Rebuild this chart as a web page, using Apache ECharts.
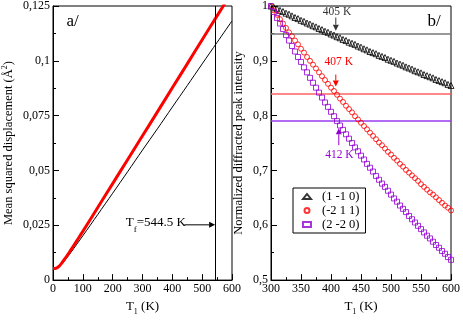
<!DOCTYPE html>
<html><head><meta charset="utf-8">
<script src="https://cdn.jsdelivr.net/npm/echarts@6/dist/echarts.min.js"></script>
<style>html,body{margin:0;padding:0;background:#fff}#c{width:463px;height:321px}</style>
</head><body><div id="c"></div>
<script>
// ---- panel a data ----
const msdT = [0,10,20,30,40,50,60,80,100,150,200,250,300,350,400,450,500,550,600];
const msdRed = [0.0053,0.0054,0.0063,0.0079,0.0098,0.0117,0.0138,0.0180,0.0222,0.0331,0.0440,0.0549,0.0658,0.0767,0.0877,0.0986,0.1096,0.1205,0.1315];
const msdBlack = [0.0053,0.0053,0.0061,0.0074,0.0090,0.0108,0.0126,0.0164,0.0202,0.0299,0.0396,0.0494,0.0593,0.0690,0.0789,0.0887,0.0986,0.1084,0.1182];
const meltT = 544.5;
// ---- panel b data ----
const tempB = [300,305,310,315,320,325,330,335,340,345,350,355,360,365,370,375,380,385,390,395,400,405,410,415,420,425,430,435,440,445,450,455,460,465,470,475,480,485,490,495,500,505,510,515,520,525,530,535,540,545,550,555,560,565,570,575,580,585,590,595,600];
const int110 = [1.000,0.997,0.995,0.992,0.990,0.987,0.985,0.982,0.979,0.977,0.974,0.972,0.969,0.967,0.964,0.962,0.959,0.957,0.954,0.952,0.949,0.947,0.944,0.942,0.939,0.937,0.934,0.932,0.930,0.927,0.925,0.922,0.920,0.917,0.915,0.913,0.910,0.908,0.906,0.903,0.901,0.899,0.896,0.894,0.892,0.889,0.887,0.885,0.882,0.880,0.878,0.875,0.873,0.871,0.869,0.866,0.864,0.862,0.860,0.857,0.855];
const int211 = [1.000,0.992,0.984,0.976,0.968,0.960,0.952,0.945,0.937,0.930,0.922,0.915,0.907,0.900,0.893,0.886,0.879,0.872,0.865,0.858,0.851,0.845,0.838,0.831,0.825,0.818,0.812,0.806,0.799,0.793,0.787,0.781,0.775,0.769,0.763,0.757,0.751,0.746,0.740,0.734,0.729,0.723,0.718,0.712,0.707,0.701,0.696,0.691,0.686,0.681,0.675,0.670,0.665,0.660,0.656,0.651,0.646,0.641,0.636,0.632,0.627];
const int220 = [1.000,0.989,0.978,0.968,0.958,0.947,0.937,0.927,0.917,0.907,0.898,0.888,0.879,0.869,0.860,0.851,0.842,0.833,0.824,0.816,0.807,0.799,0.790,0.782,0.774,0.766,0.758,0.750,0.742,0.735,0.727,0.720,0.712,0.705,0.698,0.690,0.683,0.676,0.670,0.663,0.656,0.649,0.643,0.636,0.630,0.624,0.617,0.611,0.605,0.599,0.593,0.587,0.581,0.576,0.570,0.564,0.559,0.553,0.548,0.542,0.537];
const refLevels = [0.9465, 0.842, 0.787];
const refLabels = ['405 K','407 K','412 K'];
const legendNames = ['(1 -1 0)','(-2 1 1)','(2 -2 0)'];
const xTicksA = [0,100,200,300,400,500,600];
const yTicksA = [0,0.025,0.05,0.075,0.1,0.125];
const xTicksB = [300,350,400,450,500,550,600];
const yTicksB = [0.5,0.6,0.7,0.8,0.9,1];

const FONT = "'Liberation Serif','Times New Roman',serif";
const BLACK='#000', RED='#ff0000', PURPLE='#9400d3';
const fmt = v => String(+(+v).toFixed(4)).replace('.', ',');

function axisCommon(){
  return {
    axisLine:{show:true,onZero:false,lineStyle:{color:BLACK,width:1}},
    axisTick:{show:true,inside:true,length:6,lineStyle:{color:BLACK}},
    minorTick:{show:true,splitNumber:2,length:3,lineStyle:{color:BLACK}},
    splitLine:{show:false},
    axisLabel:{color:BLACK,fontFamily:FONT,fontSize:12,margin:3,formatter:fmt},
    nameTextStyle:{color:BLACK,fontFamily:FONT,fontSize:12}
  };
}
const chart = echarts.init(document.getElementById('c'));
const xName = {
  name:'{a|T}{s|1}{a| (K)}', nameLocation:'middle', nameGap:14,
  nameTextStyle:{color:BLACK,fontFamily:FONT,fontSize:12,rich:{a:{fontFamily:FONT,fontSize:13,color:BLACK,lineHeight:14,verticalAlign:'top'},s:{fontFamily:FONT,fontSize:8,color:BLACK,lineHeight:14,padding:[8,0,0,0],verticalAlign:'top'}}}
};
chart.setOption({
  animation:false,
  backgroundColor:'#fff',
  textStyle:{fontFamily:FONT},
  grid:[
    {left:49,top:5,width:183,height:286,show:true,borderColor:BLACK,borderWidth:1,backgroundColor:'transparent'},
    {left:271,top:5,width:182,height:286,show:true,borderColor:BLACK,borderWidth:1,backgroundColor:'transparent'}
  ],
  xAxis:[
    Object.assign(axisCommon(),{type:'value',gridIndex:0,min:xTicksA[0],max:xTicksA[xTicksA.length-1],interval:100},xName,{nameTextStyle:xName.nameTextStyle}),
    Object.assign(axisCommon(),{type:'value',gridIndex:1,min:xTicksB[0],max:xTicksB[xTicksB.length-1],interval:50},xName,{nameTextStyle:xName.nameTextStyle})
  ],
  yAxis:[
    Object.assign(axisCommon(),{type:'value',gridIndex:0,min:yTicksA[0],max:yTicksA[yTicksA.length-1],interval:0.025,
      name:'{a|Mean squared displacement (Å}{s|2}{a|)}',nameLocation:'middle',nameGap:38,
      nameTextStyle:{color:BLACK,fontFamily:FONT,fontSize:12,rich:{a:{fontFamily:FONT,fontSize:12.5,color:BLACK,lineHeight:14,verticalAlign:'bottom'},s:{fontFamily:FONT,fontSize:8,color:BLACK,lineHeight:14,padding:[0,0,6,0],verticalAlign:'bottom'}}}}),
    Object.assign(axisCommon(),{type:'value',gridIndex:1,min:yTicksB[0],max:yTicksB[yTicksB.length-1],interval:0.1,
      name:'Normalized diffracted peak intensity',nameLocation:'middle',nameGap:26,
      nameTextStyle:{color:BLACK,fontFamily:FONT,fontSize:12.5}})
  ],
  legend:{
    show:true, orient:'vertical', left:293, top:188, width:68,
    data:legendNames, itemWidth:8, itemHeight:5, itemGap:1,
    padding:[2,6,2,9], borderColor:BLACK, borderWidth:1, backgroundColor:'#fff',
    textStyle:{fontFamily:FONT,fontSize:12.5,color:BLACK,padding:[0,0,0,6]}
  },
  series:[
    {type:'line',xAxisIndex:0,yAxisIndex:0,data:msdT.map((t,i)=>[t,msdBlack[i]]),showSymbol:false,smooth:0.3,
     lineStyle:{color:BLACK,width:1},itemStyle:{color:BLACK},clip:true,z:3,
     markLine:{silent:true,symbol:['none','none'],label:{show:false},lineStyle:{color:BLACK,width:1,type:'solid'},data:[{xAxis:meltT}]}},
    {type:'line',xAxisIndex:0,yAxisIndex:0,data:msdT.map((t,i)=>[t,msdRed[i]]),showSymbol:false,smooth:0.3,
     lineStyle:{color:RED,width:3},itemStyle:{color:RED},clip:true,z:4},
    {name:legendNames[0],type:'scatter',xAxisIndex:1,yAxisIndex:1,data:tempB.map((t,i)=>[t,int110[i]]),
     symbol:'triangle',symbolSize:6,itemStyle:{color:'rgba(0,0,0,0)',borderColor:BLACK,borderWidth:1},z:5,
     markLine:{silent:true,symbol:['none','none'],label:{show:false},lineStyle:{color:'#777',width:1.5,type:'solid'},data:[{yAxis:refLevels[0]}]}},
    {name:legendNames[1],type:'scatter',xAxisIndex:1,yAxisIndex:1,data:tempB.map((t,i)=>[t,int211[i]]),
     symbol:'circle',symbolSize:5,itemStyle:{color:'rgba(0,0,0,0)',borderColor:RED,borderWidth:1},z:5,
     markLine:{silent:true,symbol:['none','none'],label:{show:false},lineStyle:{color:'#ff6060',width:1.5,type:'solid'},data:[{yAxis:refLevels[1]}]}},
    {name:legendNames[2],type:'scatter',xAxisIndex:1,yAxisIndex:1,data:tempB.map((t,i)=>[t,int220[i]]),
     symbol:'rect',symbolSize:5,itemStyle:{color:'rgba(0,0,0,0)',borderColor:PURPLE,borderWidth:1},z:5,
     markLine:{silent:true,symbol:['none','none'],label:{show:false},lineStyle:{color:'#9a3cf0',width:1.5,opacity:1,type:'solid'},data:[{yAxis:refLevels[2]}]}}
  ]
});

// annotations positioned via data coordinates
function px(g, x, y){ return chart.convertToPixel({gridIndex:g},[x,y]); }
function arrow(p1, p2, color){
  const dx=p2[0]-p1[0], dy=p2[1]-p1[1], L=Math.hypot(dx,dy), ux=dx/L, uy=dy/L;
  const h=6, w=3;
  const b=[p2[0]-ux*h, p2[1]-uy*h];
  return [
    {type:'line',shape:{x1:p1[0],y1:p1[1],x2:b[0],y2:b[1]},style:{stroke:color,lineWidth:1},z:100},
    {type:'polygon',shape:{points:[[p2[0],p2[1]],[b[0]-uy*w,b[1]+ux*w],[b[0]+uy*w,b[1]-ux*w]]},style:{fill:color},z:100}
  ];
}
function txt(p, text, color, size, rich){
  return {type:'text',x:p[0],y:p[1],z:100,style:{text:text,fill:color,fontFamily:FONT,fontSize:size,align:'center',verticalAlign:'middle',rich:rich}};
}
const g = [];
g.push(txt(px(0,66,0.118),'a/',BLACK,17));
g.push(txt(px(1,572,0.972),'b/',BLACK,17));
g.push(txt(px(0,345,0.0255),'{a|T}{s|f}{a|=544.5 K}',BLACK,13,
  {a:{fontFamily:FONT,fontSize:13,fill:BLACK,lineHeight:16,verticalAlign:'top'},s:{fontFamily:FONT,fontSize:9,fill:BLACK,lineHeight:16,padding:[9,0,0,0],verticalAlign:'top'}}));
g.push(...arrow(px(0,440,0.0252),px(0,543.5,0.0252),BLACK));
// b annotations
g.push(txt(px(1,410,0.989),refLabels[0],'#333',11.5));
g.push(...arrow(px(1,408,0.979),px(1,408,0.955),'#333'));
g.push(txt(px(1,413,0.897),refLabels[1],RED,11.5));
g.push(...arrow(px(1,408,0.875),px(1,408,0.853),RED));
g.push(txt(px(1,414,0.729),refLabels[2],PURPLE,11.5));
g.push(...arrow(px(1,413,0.746),px(1,413,0.777),PURPLE));
chart.setOption({graphic:{elements:g}});
</script></body></html>
